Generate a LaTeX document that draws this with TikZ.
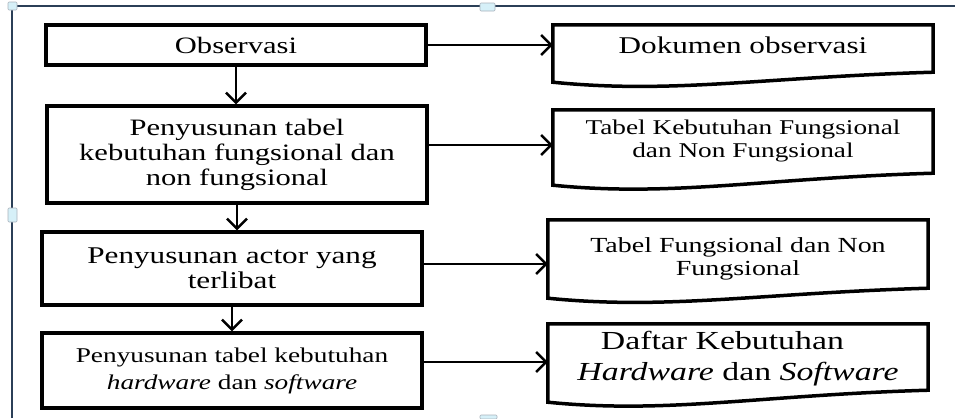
\documentclass[tikz,border=0pt]{standalone}
\usepackage{fontspec}
\setmainfont[FakeStretch=1.3]{Liberation Serif}
\usepackage{tikz}
\usetikzlibrary{arrows.meta}

\definecolor{framecol}{HTML}{2B3F57}
\definecolor{handlecol}{HTML}{D6F0F8}

\tikzset{
  stepbox/.style={draw, line width=3.5pt, minimum width=380pt, align=center},
  docbox/.style={minimum width=380pt, align=center},
  docline/.style={line width=3.5pt, line join=miter},
  arr/.style={-{Straight Barb[length=10pt,width=20pt]}, line width=2.4pt},
  handle/.style={fill=handlecol, draw=framecol!40, line width=0.6pt, rounded corners=1pt}
}

\begin{document}
\begin{tikzpicture}[x=1pt, y=-1pt]
    \useasboundingbox (0,0) rectangle (955,418);
    % canvas frame
    \draw[framecol, line width=2pt] (12,418) -- (12,6) -- (955,6);
    \draw[handle] (8,2) rectangle (17,10);
    \draw[handle] (480,3) rectangle (495,11);
    \draw[handle] (8,208) rectangle (17,222);
    \draw[handle] (480,415) rectangle (497,419);

    % steps
    \node[stepbox, minimum height=40pt, font=\fontsize{23.5}{25}\selectfont] (b1) at (236,45) {Observasi};
    \node[stepbox, minimum height=97pt, font=\fontsize{23.5}{25}\selectfont] (b2) at (237,154.5)
        {Penyusunan tabel\\kebutuhan fungsional dan\\non fungsional};
    \node[stepbox, minimum height=73pt, font=\fontsize{24}{25}\selectfont] (b3) at (232,268.5)
        {Penyusunan actor yang\\terlibat};
    \node[stepbox, minimum height=75pt, font=\fontsize{21}{27}\selectfont] (b4) at (232,370.5)
        {Penyusunan tabel kebutuhan\\\textit{hardware} dan \textit{software}};

    % documents
    \node[docbox, minimum height=40pt, font=\fontsize{24}{25}\selectfont] (d1) at (743,45) {Dokumen observasi};
    \node[docbox, minimum height=62pt, font=\fontsize{21}{23}\selectfont] (d2) at (743,141)
        {Tabel Kebutuhan Fungsional\\dan Non Fungsional};
    \node[docbox, minimum height=78pt, font=\fontsize{21.5}{23}\selectfont] (d3) at (738,259)
        {Tabel Fungsional dan Non\\Fungsional};
    \node[docbox, minimum height=70pt, font=\fontsize{26}{31}\selectfont] (d4) at (738,359)
        {Daftar Kebutuhan\hspace*{1.2em}\\\textit{Hardware} dan \textit{Software}};

    \foreach \d/\r/\l in {d1/7/17, d2/1/13, d3/-10/0, d4/-4/8}
        \draw[docline] (\d.north west) -- (\d.north east) -- ([yshift=-\r pt]\d.south east)
            .. controls +(-170,5) and +(120,12) .. ([yshift=-\l pt]\d.south west) -- cycle;

    % flow
    \draw[arr] (b1.south) -- (b1.south |- b2.north);
    \draw[arr] (b2.south) -- (b2.south |- b3.north);
    \draw[arr] (b3.south) -- (b3.south |- b4.north);
    \draw[arr] (b1.east |- d1.west) -- (d1.west);
    \draw[arr] ([yshift=-4pt]b2.east |- d2.west) -- ([yshift=-4pt]d2.west);
    \draw[arr] ([yshift=-5pt]b3.east |- d3.west) -- ([yshift=-5pt]d3.west);
    \draw[arr] ([yshift=-3pt]b4.east |- d4.west) -- ([yshift=-3pt]d4.west);
\end{tikzpicture}
\end{document}
